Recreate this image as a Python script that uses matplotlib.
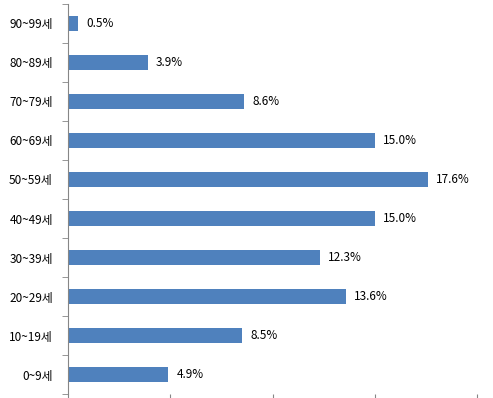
import numpy as np
import matplotlib.pyplot as plt

plt.rcParams['font.family'] = ['Noto Sans CJK KR', 'DejaVu Sans']

# 연령대별 비율 (아래 -> 위)
ages = ['0~9세', '10~19세', '20~29세', '30~39세', '40~49세',
        '50~59세', '60~69세', '70~79세', '80~89세', '90~99세']
values = [4.9, 8.5, 13.6, 12.3, 15.0, 17.6, 15.0, 8.6, 3.9, 0.5]

fig = plt.figure(figsize=(4.93, 3.98), dpi=100)
ax = fig.add_axes([0.138, 0.01, 0.8295, 0.98])

y = np.arange(len(ages))
ax.barh(y, values, height=0.38, color='#4F81BD')

for yi, v in zip(y, values):
    ax.text(v + 0.4, yi, f'{v:.1f}%', va='center', ha='left', fontsize=8.5)

ax.set_xlim(0, 20)
ax.set_ylim(-0.5, len(ages) - 0.5)
ax.set_xticks([0, 5, 10, 15, 20])
ax.set_xticklabels([])
ax.set_yticks(y)
ax.set_yticklabels(ages, fontsize=8.5)
ax.set_yticks(np.arange(-0.5, len(ages)), minor=True)

grey = '#868686'
ax.tick_params(axis='y', which='major', length=0, pad=11)
ax.tick_params(axis='y', which='minor', length=4.3, color=grey, direction='out')
ax.tick_params(axis='x', length=4, color=grey, direction='out')

for s in ['top', 'right', 'bottom']:
    ax.spines[s].set_visible(False)
ax.spines['left'].set_color(grey)

fig.savefig('out.png', dpi=100)
